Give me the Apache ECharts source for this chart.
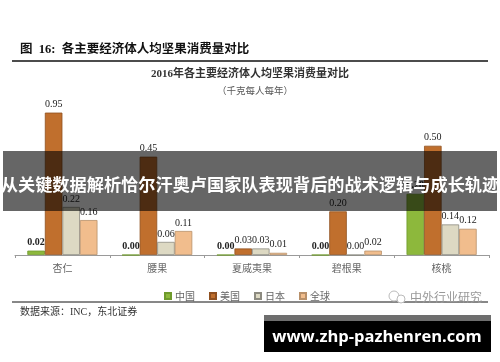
<!DOCTYPE html>
<html><head><meta charset="utf-8">
<script src="https://cdn.jsdelivr.net/npm/echarts@6/dist/echarts.min.js"></script>
<style>html,body{margin:0;padding:0;background:#fff}#c{width:500px;height:362px}</style>
</head><body><div id="c"></div>
<script>
const categories = ['杏仁', '腰果', '夏威夷果', '碧根果', '核桃'];
const seriesNames = ['中国', '美国', '日本', '全球'];
const chinaValues = [0.02, 0.00, 0.00, 0.00, 0.28];
const usaValues = [0.95, 0.45, 0.03, 0.20, 0.50];
const japanValues = [0.22, 0.06, 0.03, 0.00, 0.14];
const worldValues = [0.16, 0.11, 0.01, 0.02, 0.12];

const colors = ['#8DB83C', '#C06F2D', '#DDD9C3', '#F1BD8D'];
const borders = ['#6E9A2C', '#8F5020', '#8C8A80', '#B8906A'];
const allValues = [chinaValues, usaValues, japanValues, worldValues];
const serif = '"Liberation Serif", "Noto Sans CJK SC", serif';
const sans = '"Noto Sans CJK SC", "Noto Sans", sans-serif';

const chart = echarts.init(document.getElementById('c'), null, {renderer: 'canvas'});
const series = seriesNames.map((name, i) => ({
  name: name,
  type: 'bar',
  data: allValues[i],
  barGap: '0%',
  barCategoryGap: '26%',
  clip: true,
  itemStyle: {color: colors[i], borderColor: borders[i], borderWidth: 0.8},
  label: {
    show: true,
    position: 'top',
    distance: 3,
    fontFamily: serif,
    fontSize: 10,
    fontWeight: i === 0 ? 'bold' : 'normal',
    color: '#222',
    formatter: p => p.value.toFixed(2)
  }
}));

chart.setOption({
  animation: false,
  backgroundColor: '#fff',
  grid: {left: 15, right: 11, top: 113, bottom: 107, containLabel: false, outerBoundsMode: 'none'},
  xAxis: {
    type: 'category',
    data: categories,
    axisLine: {lineStyle: {color: '#9a9a9a', width: 1}},
    axisTick: {show: true, length: 3, lineStyle: {color: '#9a9a9a'}},
    axisLabel: {fontFamily: sans, fontSize: 10, color: '#666', margin: 8}
  },
  yAxis: {type: 'value', min: 0, max: 0.65, show: false, splitLine: {show: false}},
  legend: {
    data: seriesNames,
    left: 159, top: 286,
    itemWidth: 6, itemHeight: 6, itemGap: 14,
    icon: 'rect',
    textStyle: {fontFamily: sans, fontSize: 10, color: '#666', padding: [0, 0, 0, -1]}
  },
  series: series,
  graphic: [
    {type: 'text', left: 20, top: 44, z: 50, style: {text: '图  16:  各主要经济体人均坚果消费量对比', font: 'bold 12.5px ' + serif, fill: '#111'}},
    {type: 'line', z: 50, shape: {x1: 12, y1: 61, x2: 488, y2: 61}, style: {stroke: '#111', lineWidth: 1.5}},
    {type: 'text', z: 50, x: 250, y: 74, style: {text: '2016年各主要经济体人均坚果消费量对比', font: 'bold 11px ' + serif, fill: '#333', align: 'center', verticalAlign: 'middle'}},
    {type: 'text', z: 50, x: 255, y: 91, style: {text: '（千克每人每年）', font: '9.5px ' + serif, fill: '#595959', align: 'center', verticalAlign: 'middle'}},
    {type: 'line', z: 50, shape: {x1: 12, y1: 302, x2: 488, y2: 302}, style: {stroke: '#111', lineWidth: 1}},
    {type: 'text', z: 50, x: 20, y: 312, style: {text: '数据来源：INC，东北证券', font: '10px ' + serif, fill: '#333', verticalAlign: 'middle'}},
    {type: 'circle', z: 50, shape: {cx: 394, cy: 296, r: 5}, style: {fill: 'none', stroke: '#bbb', lineWidth: 1}},
    {type: 'circle', z: 50, shape: {cx: 401, cy: 299, r: 4}, style: {fill: '#fff', stroke: '#bbb', lineWidth: 1}},
    {type: 'text', z: 50, x: 410, y: 297, style: {text: '中外行业研究', font: '12px ' + sans, fill: '#999', verticalAlign: 'middle'}},
    {type: 'rect', z: 100, shape: {x: 3, y: 151, width: 494, height: 60}, style: {fill: 'rgba(0,0,0,0.6)'}},
    {type: 'text', z: 101, x: 250, y: 184, style: {text: '从关键数据解析恰尔汗奥卢国家队表现背后的战术逻辑与成长轨迹', font: 'bold 17.2px ' + sans, fill: '#fff', align: 'center', verticalAlign: 'middle'}},
    {type: 'rect', z: 100, shape: {x: 264, y: 315, width: 227, height: 6}, style: {fill: '#6e6e6e'}},
    {type: 'rect', z: 100, shape: {x: 264, y: 321, width: 227, height: 31}, style: {fill: '#000'}},
    {type: 'text', z: 101, x: 377, y: 337, style: {text: 'www.zhp-pazhenren.com', font: 'bold 16.5px "Open Sans", "DejaVu Sans", sans-serif', fill: '#fff', align: 'center', verticalAlign: 'middle'}}
  ]
});
</script></body></html>
